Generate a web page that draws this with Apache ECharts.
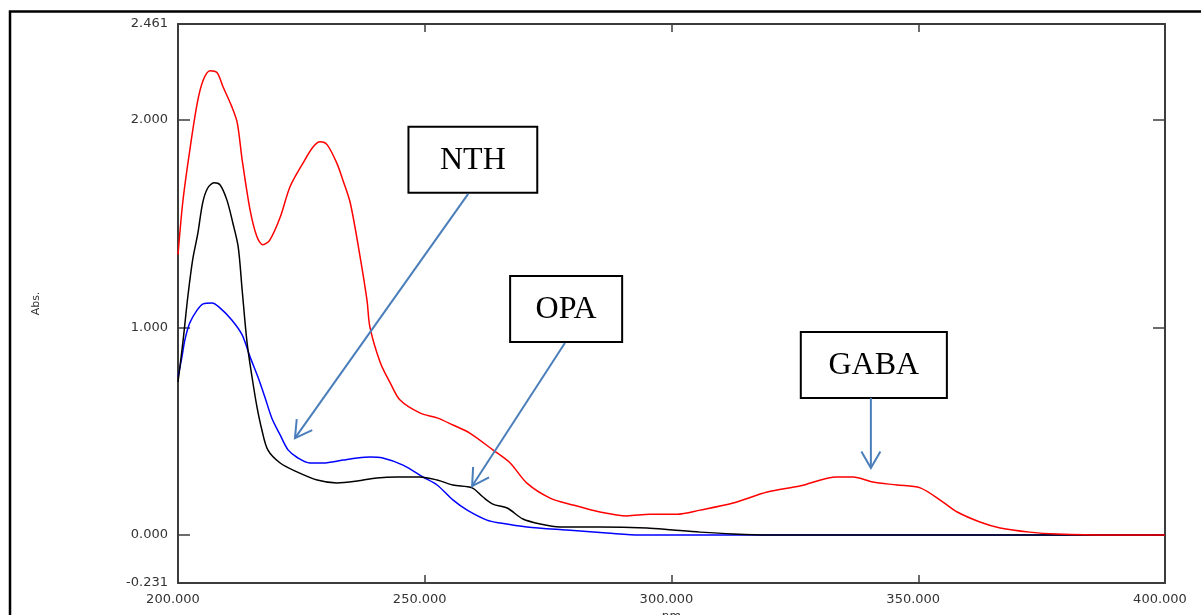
<!DOCTYPE html>
<html>
<head>
<meta charset="utf-8">
<script src="https://cdn.jsdelivr.net/npm/echarts@6/dist/echarts.min.js"></script>
<style>
  html, body { margin: 0; padding: 0; background: #ffffff; }
  #chart { width: 1201px; height: 615px; }
</style>
</head>
<body>
<div id="chart"></div>
<script>
// UV absorption spectra: wavelength (nm) and absorbance for each sample
const gabaNm  = [200, 201, 202.4, 203.9, 205.1, 206.5, 207.9, 209.1, 210.9, 212, 213, 214.6, 216, 217.2, 218.6, 220.7, 222.7, 225.3, 227.4, 228.8, 230.2, 232.2, 233.4, 234.9, 236.9, 238.3, 238.9, 241, 243, 245, 249, 252.5, 255.7, 259.2, 263.8, 267.3, 270.7, 275.4, 280, 285.5, 291, 295.6, 301.1, 305.8, 312.5, 319.4, 326, 333.5, 336.8, 340.8, 345.7, 350.4, 355, 357.9, 362.5, 366.6, 372.6, 378.1, 388.9, 400];
const gabaAbs = [1.35, 1.61, 1.855, 2.08, 2.19, 2.236, 2.227, 2.16, 2.063, 1.986, 1.807, 1.566, 1.436, 1.398, 1.42, 1.53, 1.677, 1.79, 1.87, 1.894, 1.88, 1.79, 1.71, 1.6, 1.34, 1.13, 1.0, 0.83, 0.733, 0.65, 0.588, 0.564, 0.53, 0.49, 0.41, 0.347, 0.25, 0.178, 0.145, 0.111, 0.092, 0.1, 0.1, 0.12, 0.154, 0.207, 0.236, 0.28, 0.28, 0.255, 0.241, 0.227, 0.159, 0.111, 0.063, 0.034, 0.014, 0.005, 0, 0];

const opaNm  = [200, 201, 202, 203, 204, 205, 206, 207.3, 208.5, 209.9, 211.1, 212.2, 213, 214, 215, 216, 217, 218.2, 220.7, 224.1, 228.2, 232.2, 236.3, 240.3, 244.4, 249, 252.5, 255.7, 259.6, 261.8, 263.8, 266.7, 269.9, 273.4, 277.4, 285.5, 295, 300.3, 305.8, 312.5, 319.4, 400];
const opaAbs = [0.737, 0.93, 1.15, 1.33, 1.45, 1.6, 1.67, 1.696, 1.687, 1.614, 1.504, 1.388, 1.18, 0.925, 0.761, 0.617, 0.506, 0.41, 0.347, 0.304, 0.265, 0.251, 0.26, 0.275, 0.28, 0.28, 0.265, 0.241, 0.227, 0.183, 0.149, 0.13, 0.077, 0.053, 0.039, 0.039, 0.034, 0.024, 0.014, 0.005, 0, 0];

const nthNm  = [200, 200.8, 201.4, 202.4, 203.9, 205.1, 206.9, 208.5, 210.9, 213, 214.6, 216.2, 217.6, 219, 220.7, 222.3, 224.3, 226.7, 229.4, 233.4, 236.3, 238.9, 241.5, 245.6, 249.6, 252.5, 255.7, 258.6, 262.6, 265.3, 270.7, 278.8, 286.9, 293.6, 400];
const nthAbs = [0.761, 0.858, 0.94, 1.022, 1.084, 1.113, 1.118, 1.094, 1.036, 0.964, 0.858, 0.761, 0.665, 0.564, 0.482, 0.41, 0.371, 0.347, 0.347, 0.361, 0.371, 0.376, 0.371, 0.337, 0.28, 0.241, 0.169, 0.12, 0.072, 0.058, 0.039, 0.024, 0.01, 0, 0];

// Axis ranges and tick labels
const xMin = 200, xMax = 400, xStep = 50;
const yMin = -0.231, yMax = 2.461;
const yLabelValues = [-0.231, 0, 1, 2, 2.461];
const yTickValues = [0, 1, 2];

// Callout boxes (wavelength / absorbance coordinates) with arrows to the curves
const callouts = [
  { text: 'NTH',  box: [246.7, 1.966, 272.8, 1.648], from: [258.8, 1.643], to: [223.7, 0.467] },
  { text: 'OPA',  box: [267.3, 1.248, 290.0, 0.930], from: [278.4, 0.925], to: [259.6, 0.236] },
  { text: 'GABA', box: [326.2, 0.978, 355.8, 0.660], from: [340.4, 0.660], to: [340.4, 0.323] }
];

const zip = (xs, ys) => xs.map((x, i) => [x, ys[i]]);

const axisColor = '#3c3c3c';
const labelFont = { color: '#333333', fontFamily: 'DejaVu Sans', fontSize: 13 };

const chart = echarts.init(document.getElementById('chart'), null, { renderer: 'canvas' });

const option = {
  animation: false,
  backgroundColor: '#ffffff',
  grid: { left: 178, right: 36, top: 24, bottom: 32, containLabel: false, outerBoundsMode: 'none' },
  xAxis: [
    {
      type: 'value', min: xMin, max: xMax, interval: xStep, position: 'bottom',
      axisLine: { show: true, onZero: false, lineStyle: { color: axisColor, width: 2 } },
      axisTick: { show: true, inside: true, length: 8, lineStyle: { color: axisColor, width: 1.5 } },
      axisLabel: Object.assign({ formatter: v => v.toFixed(3), margin: 10, padding: [0, 10, 0, 0] }, labelFont),
      splitLine: { show: false },
      name: 'nm', nameLocation: 'middle', nameGap: 26,
      nameTextStyle: { color: '#333333', fontFamily: 'DejaVu Sans', fontSize: 12 }
    },
    {
      type: 'value', min: xMin, max: xMax, interval: xStep, position: 'top',
      axisLine: { show: true, onZero: false, lineStyle: { color: axisColor, width: 2 } },
      axisTick: { show: true, inside: true, length: 8, lineStyle: { color: axisColor, width: 1.5 } },
      axisLabel: { show: false },
      splitLine: { show: false }
    }
  ],
  yAxis: [
    {
      type: 'value', min: yMin, max: yMax, position: 'left',
      axisLine: { show: true, onZero: false, lineStyle: { color: axisColor, width: 2 } },
      axisTick: { show: true, inside: true, length: 12, customValues: yTickValues, lineStyle: { color: axisColor, width: 1.5 } },
      axisLabel: Object.assign({ customValues: yLabelValues, formatter: v => v.toFixed(3), margin: 10 }, labelFont),
      splitLine: { show: false },
      name: 'Abs.', nameLocation: 'middle', nameRotate: 90, nameGap: 136,
      nameTextStyle: { color: '#333333', fontFamily: 'DejaVu Sans', fontSize: 11 }
    },
    {
      type: 'value', min: yMin, max: yMax, position: 'right',
      axisLine: { show: true, onZero: false, lineStyle: { color: axisColor, width: 2 } },
      axisTick: { show: true, inside: true, length: 12, customValues: yTickValues, lineStyle: { color: axisColor, width: 1.5 } },
      axisLabel: { show: false },
      splitLine: { show: false }
    }
  ],
  series: [
    { name: 'NTH',  type: 'line', data: zip(nthNm, nthAbs),   showSymbol: false, smooth: 0.3, lineStyle: { color: '#0000ff', width: 1.5 }, z: 2 },
    { name: 'OPA',  type: 'line', data: zip(opaNm, opaAbs),   showSymbol: false, smooth: 0.3, lineStyle: { color: '#000000', width: 1.5 }, z: 3 },
    { name: 'GABA', type: 'line', data: zip(gabaNm, gabaAbs), showSymbol: false, smooth: 0.3, lineStyle: { color: '#ff0000', width: 1.5 }, z: 4 }
  ]
};

chart.setOption(option);

// Page frame plus the labelled callouts, placed through the chart's own coordinate system
function buildGraphics() {
  const px = p => chart.convertToPixel({ gridIndex: 0 }, p);
  const els = [
    { type: 'rect', silent: true, z: 100,
      shape: { x: 10, y: 11.5, width: 1400, height: 800 },
      style: { fill: null, stroke: '#000000', lineWidth: 2.5 } }
  ];
  const arrowColor = '#4a7ebb';
  callouts.forEach(c => {
    const a = px([c.box[0], c.box[1]]);
    const b = px([c.box[2], c.box[3]]);
    const f = px(c.from);
    const t = px(c.to);
    els.push({ type: 'rect', z: 110, silent: true,
      shape: { x: a[0], y: a[1], width: b[0] - a[0], height: b[1] - a[1] },
      style: { fill: '#ffffff', stroke: '#000000', lineWidth: 2 } });
    els.push({ type: 'text', z: 111, silent: true,
      style: { text: c.text, x: (a[0] + b[0]) / 2, y: (a[1] + b[1]) / 2 + 1,
               fill: '#000000', font: '32px "Liberation Serif"', textAlign: 'center', textVerticalAlign: 'middle' } });
    els.push({ type: 'line', z: 110, silent: true,
      shape: { x1: f[0], y1: f[1], x2: t[0], y2: t[1] },
      style: { stroke: arrowColor, lineWidth: 2 } });
    const ang = Math.atan2(f[1] - t[1], f[0] - t[0]);
    const len = 19, spread = Math.PI / 6;
    const p1 = [t[0] + len * Math.cos(ang + spread), t[1] + len * Math.sin(ang + spread)];
    const p2 = [t[0] + len * Math.cos(ang - spread), t[1] + len * Math.sin(ang - spread)];
    els.push({ type: 'polyline', z: 110, silent: true,
      shape: { points: [p1, t, p2] },
      style: { stroke: arrowColor, lineWidth: 2, fill: null } });
  });
  chart.setOption({ graphic: els });
}
buildGraphics();
</script>
</body>
</html>
